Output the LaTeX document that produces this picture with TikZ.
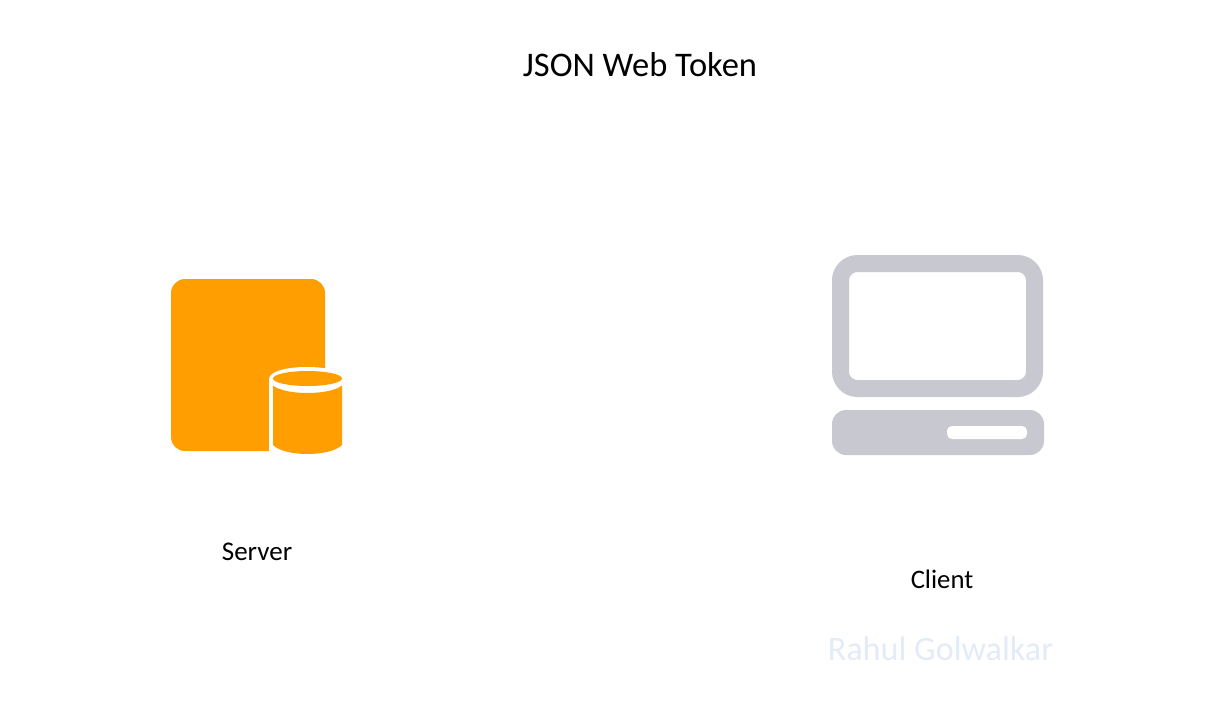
\documentclass[tikz,border=0pt]{standalone}
\usepackage{fontspec}
\setmainfont{Carlito}
\definecolor{srv}{HTML}{FF9E00}
\definecolor{cli}{HTML}{C8C9D0}
\definecolor{wm}{HTML}{E3EBF6}
\tikzset{lbl/.style={inner sep=0pt,text=black}}
\begin{document}
\begin{tikzpicture}[x=1pt,y=-1pt]
\useasboundingbox (0,0) rectangle (1206,720);
% server
\fill[srv,rounded corners=14pt] (171,279) rectangle (325,451);
\fill[white] (269,379) .. controls (269,363) and (345,363) .. (345,379) -- (345,456) -- (269,456) -- cycle;
\fill[srv] (307.5,378.5) ellipse[x radius=34.5,y radius=7.5];
\fill[srv] (273,385.5) .. controls (285,395.5) and (330,395.5) .. (342,385.5) -- (342,445) .. controls (330,457) and (285,457) .. (273,445) -- cycle;
% client
\draw[cli,line width=17pt,rounded corners=17pt] (840.5,263.5) rectangle (1034.5,388.5);
\fill[cli,rounded corners=14pt] (832,410) rectangle (1044,455);
\fill[white,rounded corners=5pt] (947,426) rectangle (1027,439);
\node[lbl,font=\fontsize{34.5pt}{40pt}\selectfont] (title) at (640,64.7) {JSON Web Token};
\node[lbl,font=\fontsize{27pt}{30pt}\selectfont] (server) at (257,552) {Server};
\node[lbl,font=\fontsize{26.7pt}{30pt}\selectfont] (client) at (942,579) {Client};
\node[lbl,text=wm,font=\fontsize{34.2pt}{38pt}\selectfont] (wm) at (940.5,649) {Rahul Golwalkar};
\end{tikzpicture}
\end{document}
